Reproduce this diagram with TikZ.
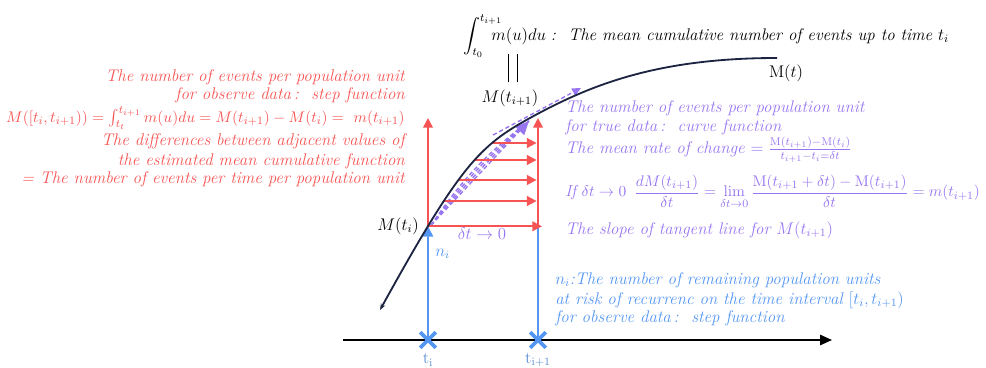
\documentclass[tikz,border=0pt]{standalone}
\usepackage{amsmath}
\usepackage{amssymb}
\usepackage{xcolor}
\usepackage{tikz}
\usetikzlibrary{shapes, shapes.misc, arrows.meta, positioning, calc, intersections}

\definecolor{obsred}{RGB}{246,84,84}
\definecolor{truepurple}{RGB}{152,118,240}
\definecolor{riskblue}{RGB}{84,150,242}
\definecolor{curvenavy}{RGB}{28,36,66}

\begin{document}
\begin{tikzpicture}[x=0.025cm, y=-0.025cm,
  txt/.style={inner sep=0pt, font=\fontsize{12}{14}\selectfont\itshape},
  redtxt/.style={txt, text=obsred, anchor=east},
  puptxt/.style={txt, text=truepurple, anchor=west},
  bluetxt/.style={txt, text=riskblue, anchor=west},
  redarr/.style={draw=obsred, line width=1.3pt, -{Triangle[length=2.4mm, width=2.4mm]}},
  bluearr/.style={draw=riskblue, line width=1.2pt},
  pdash/.style={draw=truepurple, line width=1pt, dash pattern=on 3pt off 2pt},
  tcross/.style={cross out, draw=riskblue, line width=2.6pt, minimum size=0.3cm, inner sep=0pt}]
\useasboundingbox (0,0) rectangle (986,368);

% Time axis
\coordinate (ax0) at (343,340);
\coordinate (ax1) at (832,340);
\draw[line width=1.2pt, -{Triangle[length=3mm, width=2.6mm]}] (ax0) -- (ax1);
\coordinate (ti) at (428,340);
\coordinate (tj) at (538,340);

% Mean cumulative function
\coordinate (c0) at (380,310);
\coordinate (c4) at (530,118);
\coordinate (c7) at (777,58);
\path[name path=mcf] (c0) .. controls (460,165) and (480,145.5) .. (c4)
   .. controls (590,85) and (657,58) .. (c7);
\path[name path=vti] (ti) -- ++(0,-200);
\path[name intersections={of=mcf and vti, by=Mti}];

% Risk set (blue)
\coordinate (rb) at (Mti -| tj);
\draw[bluearr, -{Triangle[length=2.6mm, width=2.6mm]}] (ti) -- (Mti);
\draw[bluearr] (tj) -- (rb);
\node[tcross] (xi) at (ti) {};
\node[tcross] (xj) at (tj) {};
\node[text=riskblue!75!gray, font=\fontsize{12}{14}\selectfont] (lti) at (428,360) {$\mathrm{t_i}$};
\node[text=riskblue!75!gray, font=\fontsize{12}{14}\selectfont] (ltj) at (538,360) {$\mathrm{t_{i+1}}$};

% Secant and tangent lines (purple)
\coordinate (fan0) at ($(Mti)+(3,-1)$);
\coordinate (fantip) at (529,121);
\foreach \b in {3,6,9} {
   \draw[pdash] (fan0) to[bend left=\b] (fantip);
}
\draw[pdash, -{Triangle[length=3.4mm, width=3mm]}] (fan0) -- (fantip);
\coordinate (tg0) at (493,135);
\coordinate (tg1) at (581,88);
\draw[pdash, -{Triangle[length=2.2mm, width=2mm]}] (tg0) -- (tg1);

% Step function (red)
\coordinate (rt1) at (428,118);
\coordinate (rt2) at (538,118);
\coordinate (re0) at (542,0);
\draw[redarr] (Mti) -- (rt1);
\draw[redarr] (rb) -- (rt2);
\draw[redarr] (Mti) -- (Mti -| re0);
\foreach \y in {143,160,180,201} {
   \path[name path=hl\y] (400,\y) -- (540,\y);
   \draw[redarr, shorten >=1pt, name intersections={of=mcf and hl\y}] (intersection-1) -- (intersection-1 -| rt2);
}

% Curve
\draw[curvenavy, line width=1.3pt, {Stealth[length=1.6mm]}-] (c0) .. controls (460,165) and (480,145.5) .. (c4)
   .. controls (590,85) and (657,58) .. (c7);

% Labels on the plot
\node[txt, anchor=east] (lMti) at (419,226) {$M(t_i)$};
\node[bluetxt] (lni) at (435,254) {$n_i$};
\node[txt, text=truepurple] (ldt) at (482,234) {$\delta t \to 0$};
\node[txt] (lMtj) at (510,98) {$M(t_{i+1})$};
\node[inner sep=0pt] (eq) at (513,68) {\rule{0.9pt}{0.72cm}\hspace{5pt}\rule{0.9pt}{0.72cm}};
\node[txt] (lMt) at (786,73) {$\mathrm{M}(t)$};
\node[txt, anchor=west] (top) at (463,36) {$\displaystyle\int_{t_0}^{t_{i+1}}\!\!\!\!\! m(u)du$\;:\; The mean cumulative number of events up to time $t_i$};

% Observed data text (red)
\node[redtxt] (r1) at (405,77) {The number of events per population unit};
\node[redtxt] (r2) at (405,95) {for observe data\,:\; step function};
\node[redtxt, font=\fontsize{11.2}{14}\selectfont\itshape] (r3) at (405,118) {$M([t_i,t_{i+1})) = \int_{t_t}^{t_{i+1}} m(u)du = M(t_{i+1}) - M(t_i) =\ m(t_{i+1})$};
\node[redtxt] (r4) at (405,141.5) {The differences between adjacent values of};
\node[redtxt] (r5) at (405,161) {the estimated mean cumulative function};
\node[redtxt] (r6) at (405,179.5) {= The number of events per time per population unit};

% True data text (purple)
\node[puptxt] (p1) at (565,108) {The number of events per population unit};
\node[puptxt] (p2) at (565,127) {for true data\,:\; curve function};
\node[puptxt] (p3) at (565,150) {The mean rate of change\ $= \frac{\mathrm{M}(t_{i+1})-\mathrm{M}(t_i)}{t_{i+1}-t_i=\delta t}$};
\node[puptxt, font=\fontsize{11.3}{14}\selectfont\itshape] (p4) at (565,192) {If $\delta t \to 0$\enspace $\displaystyle\frac{dM(t_{i+1})}{\delta t} = \lim_{\delta t\to 0}\frac{\mathrm{M}(t_{i+1}+\delta t)-\mathrm{M}(t_{i+1})}{\delta t} = m(t_{i+1})$};
\node[puptxt] (p5) at (565,230) {The slope of tangent line for $M(t_{i+1})$};

% Risk set text (blue)
\node[bluetxt] (b1) at (555,280) {$n_i$:The number of remaining population units};
\node[bluetxt] (b2) at (555,300) {at risk of recurrenc on the time interval $[t_i,t_{i+1})$};
\node[bluetxt] (b3) at (555,318) {for observe data\,:\; step function};
\end{tikzpicture}
\end{document}
